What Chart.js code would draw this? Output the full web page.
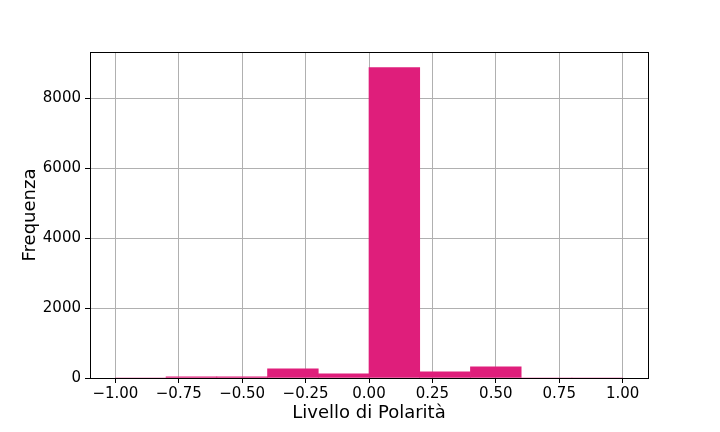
<!DOCTYPE html>
<html>
<head>
<meta charset="utf-8">
<script src="https://cdn.jsdelivr.net/npm/chart.js@4"></script>
<style>
  html, body { margin: 0; padding: 0; background: #fff; }
</style>
</head>
<body>
<canvas id="myChart" width="720" height="432"></canvas>
<script>
// histogram bins (centres) and counts
const binCenters = [-0.9, -0.7, -0.5, -0.3, -0.1, 0.1, 0.3, 0.5, 0.7, 0.9];
const binCounts = [0, 30, 30, 260, 120, 8885, 175, 320, 0, 0];
const xTicks = [-1, -0.75, -0.5, -0.25, 0, 0.25, 0.5, 0.75, 1];
const yTicks = [0, 2000, 4000, 6000, 8000];

const ctx = document.getElementById('myChart');

const frame = {
    id: 'frame',
    afterDraw(chart) {
        const a = chart.chartArea;
        const c = chart.ctx;
        c.save();
        c.strokeStyle = '#000';
        c.lineWidth = 1;
        c.strokeRect(Math.round(a.left) + 0.5, Math.round(a.top) + 0.5,
            Math.round(a.right - a.left), Math.round(a.bottom - a.top));
        c.restore();
    }
};

function fmt(v) {
    const s = Math.abs(v).toFixed(2);
    return v < 0 ? '\u2212' + s : s;
}

var myChart = new Chart(ctx, {
    type: 'bar',
    data: {
        datasets: [{
            label: 'Frequenza',
            data: binCenters.map((x, i) => ({x: x, y: binCounts[i]})),
            backgroundColor: '#df1e7b',
            borderWidth: 0,
            barPercentage: 1,
            categoryPercentage: 1,
        }]
    },
    options: {
        responsive: false,
        animation: false,
        devicePixelRatio: 1,
        layout: { padding: { left: 0, right: 72, top: 52, bottom: 0 } },
        plugins: {
            legend: { display: false },
            tooltip: { enabled: false },
        },
        scales: {
            x: {
                type: 'linear',
                min: -1.1,
                max: 1.1,
                offset: false,
                afterBuildTicks: (s) => { s.ticks = xTicks.map(v => ({value: v})); },
                afterFit: (s) => { s.height = 54; },
                grid: { offset: false, color: '#b0b0b0', tickColor: '#000', tickLength: 5, lineWidth: 1 },
                border: { display: false },
                ticks: {
                    color: '#000',
                    padding: 2,
                    maxRotation: 0,
                    autoSkip: false,
                    font: { family: 'DejaVu Sans', size: 15 },
                    callback: (v) => fmt(v),
                },
                title: {
                    display: true,
                    text: 'Livello di Polarità',
                    color: '#000',
                    font: { family: 'DejaVu Sans', size: 18 },
                    padding: { top: 8, bottom: 8 },
                },
            },
            y: {
                type: 'linear',
                min: 0,
                max: 9330,
                afterBuildTicks: (s) => { s.ticks = yTicks.map(v => ({value: v})); },
                afterFit: (s) => { s.width = 90; },
                grid: { color: '#b0b0b0', tickColor: '#000', tickLength: 5, lineWidth: 1 },
                border: { display: false },
                ticks: {
                    color: '#000',
                    padding: 4,
                    font: { family: 'DejaVu Sans', size: 15 },
                    callback: (v) => String(v),
                },
                title: {
                    display: true,
                    text: 'Frequenza',
                    color: '#000',
                    font: { family: 'DejaVu Sans', size: 18 },
                    padding: { top: 20, bottom: 20 },
                },
            },
        },
    },
    plugins: [frame],
});
</script>
</body>
</html>
